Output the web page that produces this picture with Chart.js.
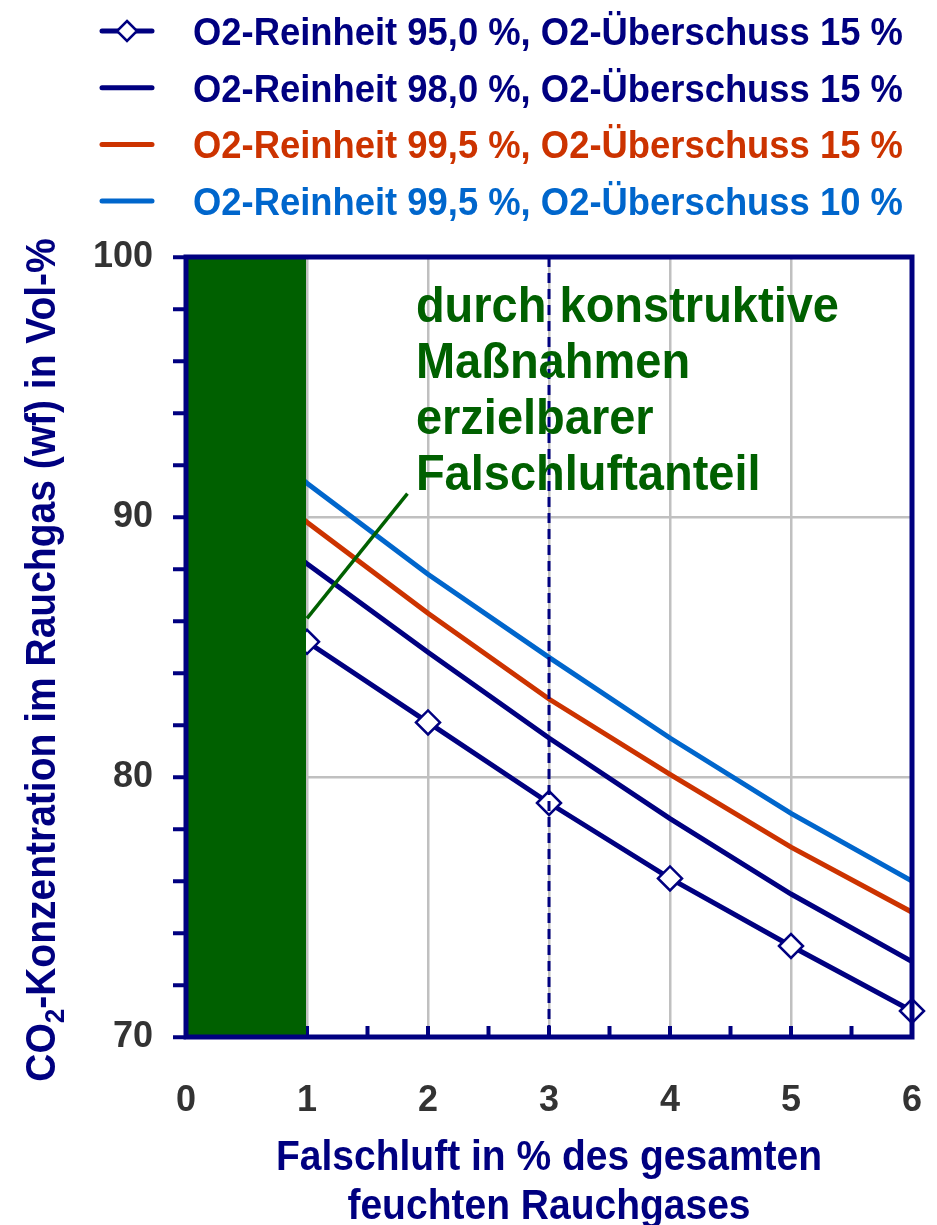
<!DOCTYPE html>
<html lang="de">
<head>
<meta charset="utf-8">
<title>CO2-Konzentration im Rauchgas</title>
<script src="https://cdn.jsdelivr.net/npm/chart.js@4.4.1/dist/chart.umd.min.js"></script>
<style>
    body { margin: 0; background: #fff; }
    #wrap { width: 937px; height: 1225px; }
</style>
</head>
<body>
<div id="wrap"><canvas id="co2Chart" width="937" height="1225"></canvas></div>
<script>
// Falschluft in % (x) and CO2 concentration in Vol-% (y)
const falschluft = [0, 1, 2, 3, 4, 5, 6];
const reinheit950 = [88.5, 85.2, 82.1, 79.0, 76.1, 73.5, 71.0];
const reinheit980 = [91.8, 88.2, 84.8, 81.5, 78.4, 75.5, 72.9];
const reinheit995 = [93.6, 89.8, 86.3, 83.0, 80.1, 77.3, 74.8];
const reinheit995u10 = [95.2, 91.3, 87.8, 84.6, 81.5, 78.6, 76.0];

const seriesLabels = [
    'O2-Reinheit 95,0 %, O2-Überschuss 15 %',
    'O2-Reinheit 98,0 %, O2-Überschuss 15 %',
    'O2-Reinheit 99,5 %, O2-Überschuss 15 %',
    'O2-Reinheit 99,5 %, O2-Überschuss 10 %'
];
const yLabelTicks = [70, 80, 90, 100];
const xLabelTicks = [0, 1, 2, 3, 4, 5, 6];
const greenZone = [0, 1];       // achievable false air range
const markerLineX = 3;          // dashed reference line
const noteLines = ['durch konstruktive', 'Maßnahmen', 'erzielbarer', 'Falschluftanteil'];

const NAVY = '#000080';
const RED = '#CC3300';
const BLUE = '#0066CC';
const GREEN = '#006000';
const FONT = "'Liberation Sans', Arial, sans-serif";
const STRETCH = 1.08;           // text in the original is slightly tall

function toPoints(values) {
    return falschluft.map((x, i) => ({ x: x, y: values[i] }));
}

// draw text slightly stretched vertically around its baseline
function tallText(ctx, text, x, y) {
    ctx.save();
    ctx.translate(x, y);
    ctx.scale(1, STRETCH);
    ctx.fillText(text, 0, 0);
    ctx.restore();
}

const decor = {
    id: 'decor',
    beforeDatasetsDraw(chart) {
        const { ctx, chartArea: a, scales: { x } } = chart;
        // inward x tick marks every 0.5
        ctx.save();
        ctx.strokeStyle = NAVY;
        ctx.lineWidth = 4;
        x.ticks.forEach(t => {
            const px = x.getPixelForValue(t.value);
            ctx.beginPath();
            ctx.moveTo(px, a.bottom);
            ctx.lineTo(px, a.bottom - 11);
            ctx.stroke();
        });
        ctx.restore();
    },
    afterDatasetsDraw(chart) {
        const { ctx, chartArea: a, scales: { x, y } } = chart;
        ctx.save();
        // green block
        const gx0 = x.getPixelForValue(greenZone[0]);
        const gx1 = x.getPixelForValue(greenZone[1]);
        ctx.fillStyle = GREEN;
        ctx.fillRect(gx0, a.top, gx1 - gx0 - 1, a.bottom - a.top);

        // dashed line at x = 3
        const dx = x.getPixelForValue(markerLineX);
        ctx.strokeStyle = NAVY;
        ctx.lineWidth = 3;
        ctx.setLineDash([10, 6]);
        ctx.beginPath();
        ctx.moveTo(dx, a.top);
        ctx.lineTo(dx, a.bottom);
        ctx.stroke();
        ctx.setLineDash([]);

        // pointer line from block to the note
        ctx.strokeStyle = GREEN;
        ctx.lineWidth = 3.5;
        ctx.beginPath();
        ctx.moveTo(x.getPixelForValue(1), y.getPixelForValue(86.1));
        ctx.lineTo(x.getPixelForValue(1.83), y.getPixelForValue(90.9));
        ctx.stroke();

        // frame
        ctx.strokeStyle = NAVY;
        ctx.lineWidth = 5;
        ctx.lineCap = 'square';
        ctx.beginPath();
        ctx.moveTo(a.left, a.top);
        ctx.lineTo(a.right, a.top);
        ctx.lineTo(a.right, a.bottom);
        ctx.lineTo(a.left, a.bottom);
        ctx.closePath();
        ctx.stroke();

        // note text
        ctx.fillStyle = GREEN;
        ctx.font = 'bold 47px ' + FONT;
        ctx.textAlign = 'left';
        ctx.textBaseline = 'alphabetic';
        const nx = x.getPixelForValue(1.9);
        noteLines.forEach((line, i) => {
            tallText(ctx, line, nx, a.top + 65 + i * 56);
        });
        ctx.restore();
    },
    afterDraw(chart) {
        const { ctx, chartArea: a } = chart;
        ctx.save();
        // legend
        chart.data.datasets.forEach((ds, i) => {
            const cy = 31 + i * 56.7;
            ctx.strokeStyle = ds.borderColor;
            ctx.lineWidth = 5;
            ctx.lineCap = 'round';
            ctx.beginPath();
            ctx.moveTo(102, cy);
            ctx.lineTo(152, cy);
            ctx.stroke();
            if (i === 0) {
                const r = 10;
                ctx.fillStyle = '#fff';
                ctx.lineWidth = 2.5;
                ctx.beginPath();
                ctx.moveTo(127, cy - r);
                ctx.lineTo(127 + r, cy);
                ctx.lineTo(127, cy + r);
                ctx.lineTo(127 - r, cy);
                ctx.closePath();
                ctx.fill();
                ctx.stroke();
            }
            ctx.fillStyle = ds.borderColor;
            ctx.font = 'bold 36.4px ' + FONT;
            ctx.textAlign = 'left';
            ctx.textBaseline = 'alphabetic';
            tallText(ctx, ds.label, 193, cy + 14);
        });

        // x title
        ctx.fillStyle = NAVY;
        ctx.font = 'bold 39px ' + FONT;
        ctx.textAlign = 'center';
        const cx = (a.left + a.right) / 2;
        tallText(ctx, 'Falschluft in % des gesamten', cx, 1170);
        tallText(ctx, 'feuchten Rauchgases', cx, 1219);

        // y title with subscript
        ctx.translate(55, 660);
        ctx.rotate(-Math.PI / 2);
        ctx.scale(1, STRETCH);
        const big = 'bold 39px ' + FONT;
        const small = 'bold 26px ' + FONT;
        const parts = [['CO', big, 0], ['2', small, 8], ['-Konzentration im Rauchgas (wf) in Vol-%', big, 0]];
        let total = 0;
        parts.forEach(p => { ctx.font = p[1]; total += ctx.measureText(p[0]).width; });
        let px = -total / 2;
        ctx.textAlign = 'left';
        parts.forEach(p => {
            ctx.font = p[1];
            ctx.fillText(p[0], px, p[2]);
            px += ctx.measureText(p[0]).width;
        });
        ctx.restore();
    }
};

new Chart(document.getElementById('co2Chart'), {
    type: 'line',
    data: {
        datasets: [
            {
                label: seriesLabels[0],
                data: toPoints(reinheit950),
                borderColor: NAVY,
                borderWidth: 5,
                pointStyle: 'rectRot',
                pointRadius: ctx => (ctx.raw && ctx.raw.x === 0 ? 0 : 12),
                pointBackgroundColor: '#fff',
                pointBorderColor: NAVY,
                pointBorderWidth: 2.5,
                clip: false
            },
            {
                label: seriesLabels[1],
                data: toPoints(reinheit980),
                borderColor: NAVY,
                borderWidth: 5,
                pointRadius: 0
            },
            {
                label: seriesLabels[2],
                data: toPoints(reinheit995),
                borderColor: RED,
                borderWidth: 5,
                pointRadius: 0
            },
            {
                label: seriesLabels[3],
                data: toPoints(reinheit995u10),
                borderColor: BLUE,
                borderWidth: 5,
                pointRadius: 0
            }
        ]
    },
    options: {
        responsive: false,
        animation: false,
        layout: {
            padding: { top: 257, right: 25, bottom: 0, left: 0 }
        },
        plugins: {
            legend: { display: false },
            tooltip: { enabled: false }
        },
        scales: {
            x: {
                type: 'linear',
                min: 0,
                max: 6,
                afterFit: scale => {
                    scale.height = 188;
                    scale.paddingLeft = 0;
                    scale.paddingRight = 0;
                },
                border: { display: false },
                grid: {
                    drawTicks: false,
                    lineWidth: 2.5,
                    color: ctx => (xLabelTicks.includes(ctx.tick.value) && ctx.tick.value > 0 ? '#c0c0c0' : 'rgba(0,0,0,0)')
                },
                ticks: {
                    stepSize: 0.5,
                    padding: 42,
                    color: '#333',
                    font: { family: FONT, size: 36, weight: 'bold' },
                    callback: v => (xLabelTicks.includes(v) ? String(v) : '')
                }
            },
            y: {
                min: 70,
                max: 100,
                afterFit: scale => {
                    scale.width = 186;
                    scale.paddingTop = 0;
                    scale.paddingBottom = 0;
                },
                border: { display: false },
                grid: {
                    lineWidth: 2.5,
                    tickLength: 13,
                    tickWidth: 4,
                    tickColor: NAVY,
                    color: ctx => (ctx.tick.value === 80 || ctx.tick.value === 90 ? '#c0c0c0' : 'rgba(0,0,0,0)')
                },
                ticks: {
                    stepSize: 2,
                    padding: 20,
                    color: '#333',
                    font: { family: FONT, size: 36, weight: 'bold' },
                    callback: v => (yLabelTicks.includes(v) ? String(v) : '')
                }
            }
        }
    },
    plugins: [decor]
});
</script>
</body>
</html>
